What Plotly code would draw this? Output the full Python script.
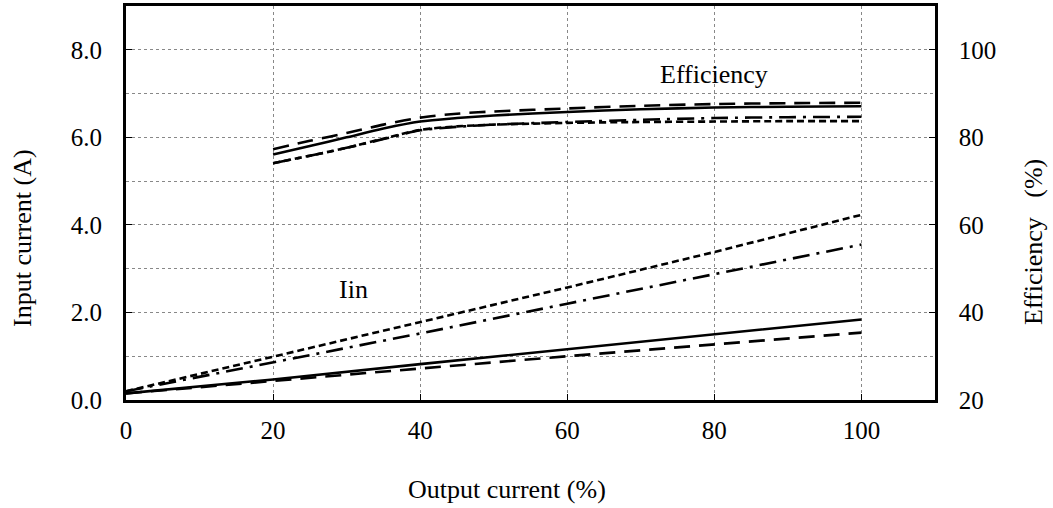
import plotly.graph_objects as go

# ---- data ----
eff_x = [20, 25, 30, 35, 40, 45, 50, 60, 70, 80, 90, 100]
eff_solid = [76.1, 78.0, 80.0, 82.0, 83.6, 84.4, 85.0, 85.8, 86.4, 86.8, 87.0, 87.1]
eff_dash = [77.3, 79.2, 81.0, 82.9, 84.5, 85.4, 85.9, 86.6, 87.2, 87.6, 87.8, 87.9]
eff_dashdot = [74.1, 75.8, 77.6, 79.6, 81.6, 82.4, 82.9, 83.5, 84.0, 84.4, 84.6, 84.7]
eff_dot = [74.1, 75.8, 77.6, 79.7, 81.7, 82.5, 82.9, 83.3, 83.5, 83.6, 83.7, 83.7]

iin_x = [0, 20, 40, 60, 80, 100]
iin_solid = [0.15, 0.47, 0.82, 1.16, 1.50, 1.84]
iin_dash = [0.15, 0.44, 0.72, 1.00, 1.27, 1.54]
iin_dashdot = [0.20, 0.86, 1.52, 2.20, 2.87, 3.55]
iin_dot = [0.20, 0.99, 1.77, 2.57, 3.38, 4.23]

x_ticks = [0, 20, 40, 60, 80, 100]
y_ticks = [0, 2, 4, 6, 8]
y2_ticks = [20, 40, 60, 80, 100]

FONT = "Times New Roman"
F = dict(family=FONT, size=25, color="black")
FT = dict(family=FONT, size=26, color="black")
styles = {
    "solid": "solid",
    "dash": "16px,9px",
    "dashdot": "17px,7px,3px,7px",
    "dot": "7px,4px",
}

fig = go.Figure()
for name, ys in [("solid", iin_solid), ("dash", iin_dash), ("dashdot", iin_dashdot), ("dot", iin_dot)]:
    fig.add_trace(go.Scatter(x=iin_x, y=ys, mode="lines", yaxis="y",
                             line=dict(color="black", width=2.6, dash=styles[name]),
                             showlegend=False))
for name, ys in [("solid", eff_solid), ("dash", eff_dash), ("dashdot", eff_dashdot), ("dot", eff_dot)]:
    fig.add_trace(go.Scatter(x=eff_x, y=ys, mode="lines", yaxis="y2",
                             line=dict(color="black", width=2.6, dash=styles[name], shape="spline", smoothing=0.8),
                             showlegend=False))

grid = dict(showgrid=True, gridcolor="#888888", gridwidth=1, griddash="dot")
L, R, T, B = 126, 118, 6, 108
W, H = 1053, 508
pw = W - L - R
ph = H - T - B


def px_ann(text, px, py, angle=0):
    return dict(text=text, x=(px - L) / pw, y=((H - py) - B) / ph, xref="paper", yref="paper",
                xanchor="center", yanchor="middle", showarrow=False, textangle=angle,
                font=FT)


fig.update_layout(
    template="none",
    width=W, height=H,
    margin=dict(l=L, r=R, t=T, b=B),
    paper_bgcolor="white", plot_bgcolor="white",
    xaxis=dict(range=[0, 110], tickvals=x_ticks, ticks="inside", ticklen=6, tickfont=F,
               tickcolor="black", showline=True, linecolor="black", linewidth=2.5,
               mirror=True, zeroline=False, ticklabelstandoff=6, **grid),
    yaxis=dict(range=[0, 9], tickvals=y_ticks, tickformat=".1f", ticks="inside", tickfont=F,
               ticklen=6, tickcolor="black", showline=True, linecolor="black",
               linewidth=3, zeroline=False, ticklabelstandoff=16,
               minor=dict(dtick=1, tick0=0, showgrid=True, gridcolor="#888888",
                          griddash="dot", gridwidth=1), **grid),
    yaxis2=dict(range=[20, 110], tickvals=y2_ticks, overlaying="y", side="right", tickfont=F,
                ticks="inside", ticklen=6, tickcolor="black", showline=True,
                linecolor="black", linewidth=2.5, showgrid=False, zeroline=False,
                ticklabelstandoff=16),
    annotations=[
        dict(text="Efficiency", x=80, y=7.43, xref="x", yref="y", showarrow=False, font=FT),
        dict(text="Iin", x=31, y=2.52, xref="x", yref="y", showarrow=False, font=FT),
        px_ann("Output current (%)", 507, 489),
        px_ann("Input current (A)", 22, 238, -90),
        px_ann("Efficiency\u00a0\u00a0\u00a0(%)", 1033, 242, -90),
    ],
)
fig.write_html("out.html")
